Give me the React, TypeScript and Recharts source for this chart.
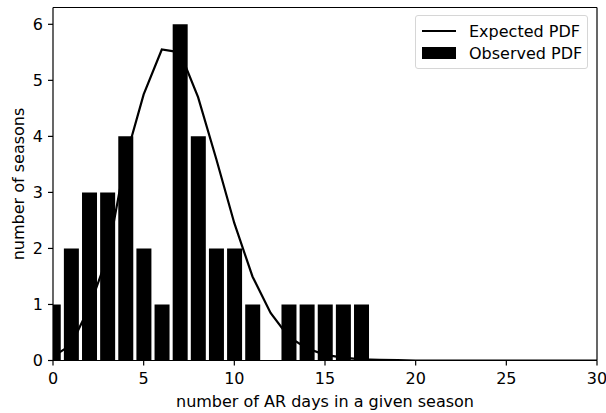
import {
  ComposedChart,
  Bar,
  Line,
  XAxis,
  YAxis,
  Legend,
  ReferenceLine,
} from 'recharts';

// number of AR days per season (0..30)
const days = Array.from({ length: 31 }, (_, i) => i);

// observed histogram counts, one per day value
const observed = [1, 2, 3, 3, 4, 2, 1, 6, 4, 2, 2, 1, 0, 1, 1, 1, 1, 1, 0, 0, 0, 0, 0, 0, 0, 0, 0, 0, 0, 0, 0];

// expected curve
const expected = [
  0.07, 0.28, 0.95, 1.85, 3.6, 4.75, 5.55, 5.5, 4.7, 3.6, 2.45, 1.5, 0.85, 0.42, 0.22, 0.1,
  0.05, 0.02, 0.01, 0.005, 0, 0, 0, 0, 0, 0, 0, 0, 0, 0, 0,
];

const xTicks = [0, 5, 10, 15, 20, 25, 30];
const yTicks = [0, 1, 2, 3, 4, 5, 6];
const Y_MAX = 6.3;
const X_MAX = 30;

const data = days.map((d, i) => ({ day: d, observed: observed[i], expected: expected[i] }));

const FONT = 'DejaVu Sans, sans-serif';
const tickStyle = { fill: '#000', fontSize: 16, fontFamily: FONT };
const spine = { stroke: '#000', strokeWidth: 1.2 };

function LegendBox() {
  return (
    <div
      style={{
        width: 173,
        height: 54,
        boxSizing: 'border-box',
        border: '1px solid #d6d6d6',
        borderRadius: 3,
        background: 'rgba(255,255,255,0.8)',
        fontFamily: FONT,
        fontSize: 16,
        color: '#000',
        padding: '4px 0 0 6px',
      }}
    >
      <div style={{ display: 'flex', alignItems: 'center', height: 22 }}>
        <span style={{ display: 'inline-block', width: 34, height: 2, background: '#000' }} />
        <span style={{ marginLeft: 13 }}>Expected PDF</span>
      </div>
      <div style={{ display: 'flex', alignItems: 'center', height: 22 }}>
        <span style={{ display: 'inline-block', width: 34, height: 12, background: '#000' }} />
        <span style={{ marginLeft: 13 }}>Observed PDF</span>
      </div>
    </div>
  );
}

export default function App() {
  return (
    <div style={{ position: 'absolute', left: 0, top: 0, width: 606, height: 413, background: '#fff' }}>
      <ComposedChart
        width={606}
        height={413}
        data={data}
        margin={{ top: 7.5, right: 9, bottom: 0, left: 0 }}
        barCategoryGap="10%"
      >
        <XAxis
          dataKey="day"
          type="number"
          domain={[0, X_MAX]}
          ticks={xTicks}
          allowDataOverflow
          height={52.5}
          tickSize={5}
          tickMargin={7.5}
          tick={tickStyle}
          axisLine={spine}
          tickLine={spine}
          label={{
            value: 'number of AR days in a given season',
            position: 'insideBottom',
            offset: 6,
            style: { fill: '#000', fontSize: 16, fontFamily: FONT },
          }}
        />
        <YAxis
          type="number"
          domain={[0, Y_MAX]}
          ticks={yTicks}
          allowDataOverflow
          width={53}
          tickSize={5}
          tickMargin={5}
          tick={tickStyle}
          axisLine={spine}
          tickLine={spine}
          label={{
            value: 'number of seasons',
            angle: -90,
            position: 'insideLeft',
            offset: 18,
            style: { textAnchor: 'middle', fill: '#000', fontSize: 16, fontFamily: FONT },
          }}
        />
        <ReferenceLine y={Y_MAX} stroke="#000" strokeWidth={1.2} />
        <ReferenceLine x={X_MAX} stroke="#000" strokeWidth={1.2} />
        <Legend
          layout="horizontal"
          verticalAlign="middle"
          align="center"
          content={() => <LegendBox />}
          wrapperStyle={{ position: 'absolute', top: 15, left: 415, width: 173 }}
        />
        <Bar dataKey="observed" name="Observed PDF" fill="#000" isAnimationActive={false} />
        <Line
          dataKey="expected"
          name="Expected PDF"
          type="linear"
          stroke="#000"
          strokeWidth={2.2}
          dot={false}
          activeDot={false}
          isAnimationActive={false}
        />
      </ComposedChart>
    </div>
  );
}
